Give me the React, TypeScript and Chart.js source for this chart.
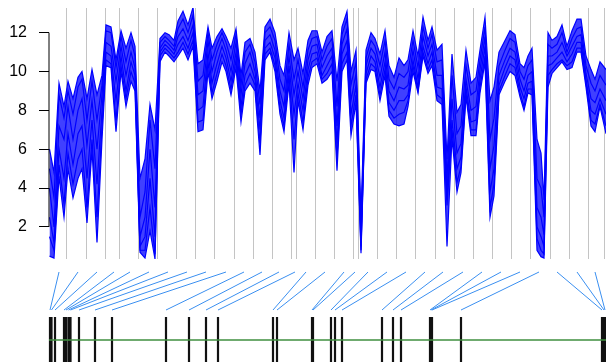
import React, { useEffect, useRef } from "react";
import { Chart, registerables } from "chart.js";
Chart.register(...registerables);

// ---- top panel data ----
const xPos = [
  49.5, 54, 59, 64, 68, 73, 78, 82, 87, 92,
  97, 102, 106, 111, 116, 121, 126, 131, 135, 140,
  145, 150, 155, 160, 165, 169, 174, 178, 183, 188,
  193, 198, 203, 208, 212, 217, 222, 226, 231, 236,
  241, 245, 250, 255, 260, 265, 270, 275, 280, 284,
  289, 294, 298, 303, 308, 312, 317, 322, 327, 332,
  337, 342, 347, 351, 356, 361, 366, 371, 375, 380,
  385, 389, 394, 399, 404, 408, 413, 418, 423, 428,
  432, 437, 442, 447, 452, 457, 461, 466, 471, 476,
  480, 485, 490, 494, 499, 505, 510, 515, 520, 524,
  528, 532, 537, 541, 544, 548, 552, 557, 562, 567,
  572, 577, 581, 586, 591, 595, 600, 606,
];

const seriesA = [
  6.0, 4.8, 9.4, 8.2, 9.5, 8.6, 9.7, 10.0, 8.6, 10.1,
  8.8, 9.8, 12.4, 12.3, 10.6, 12.1, 11.2, 12.0, 11.3, 4.5,
  5.5, 8.3, 7.0, 11.7, 12.0, 11.9, 11.6, 12.6, 13.1, 12.4,
  13.3, 10.4, 10.6, 12.3, 11.2, 11.8, 12.2, 11.8, 11.2, 12.2,
  9.8, 11.5, 11.7, 11.0, 9.0, 12.3, 12.7, 12.0, 10.3, 9.8,
  12.0, 10.6, 11.2, 9.9, 11.6, 12.1, 12.1, 11.0, 11.8, 12.1,
  9.5, 12.3, 13.1, 10.0, 11.1, 2.5, 11.1, 12.0, 11.7, 10.9,
  12.1, 10.3, 9.7, 10.7, 10.3, 10.6, 12.1, 10.8, 12.8, 11.6,
  12.3, 11.1, 11.4, 5.5, 10.9, 7.9, 8.3, 11.1, 9.4, 9.7,
  11.1, 12.8, 8.5, 9.2, 11.0, 11.6, 12.1, 11.9, 10.4, 10.2,
  10.8, 11.2, 6.5, 5.8, 3.4, 12.0, 11.6, 11.8, 12.4, 11.3,
  12.1, 12.7, 12.7, 10.8, 10.1, 9.6, 10.5, 10.1,
];
const seriesB = [
  5.0, 3.5, 8.8, 7.6, 9.0, 7.8, 9.2, 9.6, 7.5, 9.5,
  7.5, 9.3, 12.1, 12.0, 10.2, 11.8, 10.5, 11.6, 10.8, 2.5,
  3.8, 7.5, 5.0, 11.5, 11.8, 11.6, 11.3, 12.2, 12.7, 12.0,
  12.9, 9.5, 9.8, 12.0, 10.6, 11.4, 12.0, 11.5, 10.6, 11.9,
  9.3, 11.0, 11.4, 10.5, 8.3, 12.0, 12.3, 11.6, 9.6, 9.0,
  11.4, 9.6, 10.6, 9.2, 11.1, 11.7, 11.8, 10.6, 11.3, 11.7,
  8.2, 11.9, 12.7, 9.3, 10.5, 1.8, 10.7, 11.6, 11.3, 10.3,
  11.6, 9.6, 9.1, 9.9, 9.7, 10.0, 11.6, 10.2, 12.3, 11.2,
  11.9, 10.5, 10.6, 4.5, 9.8, 6.8, 7.2, 10.3, 8.8, 9.0,
  10.6, 12.3, 6.5, 7.6, 10.3, 11.1, 11.7, 11.5, 10.0, 9.6,
  10.3, 10.6, 4.5, 4.0, 2.5, 11.4, 11.2, 11.4, 12.0, 11.0,
  11.7, 12.2, 12.3, 10.3, 9.4, 9.0, 9.8, 9.3,
];
const seriesC = [
  4.0, 2.0, 7.2, 6.5, 8.2, 6.5, 8.0, 8.6, 6.2, 8.5,
  6.0, 8.8, 11.5, 11.3, 9.5, 11.3, 9.8, 11.0, 10.2, 1.5,
  2.5, 6.0, 3.0, 11.2, 11.6, 11.4, 11.1, 11.8, 12.2, 11.6,
  12.4, 8.8, 9.0, 11.6, 10.0, 11.0, 11.7, 11.1, 10.0, 11.5,
  8.8, 10.4, 11.0, 10.0, 7.6, 11.6, 11.9, 11.1, 9.0, 8.2,
  10.8, 8.8, 10.0, 8.6, 10.6, 11.3, 11.4, 10.2, 10.8, 11.2,
  7.2, 11.4, 12.2, 8.5, 9.9, 1.4, 10.3, 11.2, 10.9, 9.7,
  11.0, 9.0, 8.5, 9.2, 9.1, 9.3, 11.1, 9.6, 11.8, 10.8,
  11.4, 9.8, 9.8, 3.8, 8.6, 5.8, 6.3, 9.6, 8.0, 8.2,
  10.1, 11.8, 5.0, 6.2, 9.8, 10.6, 11.2, 11.0, 9.6, 9.0,
  9.8, 10.0, 3.0, 2.5, 1.6, 10.8, 10.8, 11.0, 11.5, 10.8,
  11.3, 11.8, 11.9, 9.9, 8.6, 8.4, 9.1, 8.5,
];
const seriesD = [
  2.5, 1.2, 6.0, 4.5, 6.8, 5.2, 6.8, 7.2, 4.5, 7.5,
  4.2, 8.0, 11.0, 10.8, 8.5, 10.8, 9.0, 10.5, 9.8, 1.0,
  1.5, 4.5, 1.5, 11.0, 11.4, 11.2, 10.9, 11.4, 11.8, 11.2,
  12.0, 8.0, 8.2, 11.0, 9.4, 10.4, 11.3, 10.7, 9.5, 11.0,
  8.2, 9.8, 10.4, 9.6, 7.0, 11.2, 11.5, 10.7, 8.5, 7.6,
  10.3, 7.8, 9.4, 8.0, 10.1, 10.9, 11.0, 9.8, 10.3, 10.8,
  6.3, 10.9, 11.6, 7.8, 9.3, 1.0, 9.9, 10.8, 10.5, 9.2,
  10.5, 8.4, 8.0, 8.5, 8.5, 8.8, 10.6, 9.2, 11.3, 10.4,
  11.0, 9.2, 9.1, 3.4, 7.5, 5.0, 5.6, 9.2, 7.4, 7.5,
  9.6, 11.3, 3.8, 5.0, 9.3, 10.2, 10.8, 10.6, 9.2, 8.6,
  9.4, 9.5, 2.0, 1.5, 1.0, 10.3, 10.4, 10.7, 11.0, 10.5,
  10.9, 11.5, 11.5, 9.6, 8.0, 7.8, 8.6, 7.8,
];
const seriesE = [
  1.5, 0.8, 5.2, 3.2, 5.8, 4.2, 5.5, 6.0, 3.0, 6.5,
  2.5, 7.2, 10.6, 10.4, 7.5, 10.3, 8.6, 10.0, 9.4, 0.8,
  0.8, 3.0, 0.6, 10.8, 11.2, 11.0, 10.7, 11.0, 11.5, 10.9,
  11.6, 7.4, 7.5, 10.5, 8.9, 9.9, 10.9, 10.3, 9.1, 10.6,
  7.8, 9.3, 9.9, 9.3, 6.3, 10.9, 11.2, 10.3, 8.1, 7.2,
  9.8, 6.5, 8.9, 7.4, 9.7, 10.5, 10.7, 9.6, 9.9, 10.4,
  5.5, 10.4, 11.0, 7.2, 8.8, 0.8, 9.6, 10.4, 10.2, 8.8,
  10.1, 8.0, 7.6, 7.8, 7.9, 8.5, 10.3, 9.0, 11.0, 10.1,
  10.6, 8.8, 8.6, 3.1, 7.0, 4.3, 5.1, 8.9, 7.0, 7.0,
  9.2, 10.8, 3.0, 4.2, 9.0, 9.8, 10.4, 10.2, 8.9, 8.2,
  9.1, 9.1, 1.4, 0.8, 0.6, 9.8, 10.1, 10.4, 10.6, 10.3,
  10.5, 11.2, 11.2, 9.4, 7.5, 7.3, 8.3, 7.2,
];
const seriesF = [
  0.5, 0.4, 4.6, 2.5, 5.0, 3.5, 4.5, 5.0, 2.2, 6.0,
  1.2, 6.5, 10.3, 10.2, 6.9, 10.0, 8.2, 9.5, 9.0, 0.7,
  0.4, 1.8, 0.35, 10.5, 11.0, 10.8, 10.5, 10.8, 11.2, 10.6,
  11.3, 6.9, 7.0, 10.0, 8.6, 9.5, 10.5, 10.0, 8.8, 10.2,
  7.4, 9.0, 9.4, 9.0, 5.7, 10.6, 11.0, 10.0, 7.8, 6.9,
  9.4, 4.8, 8.5, 7.0, 9.3, 10.2, 10.4, 9.4, 9.6, 10.0,
  4.9, 10.0, 10.6, 6.7, 8.4, 0.65, 9.4, 10.1, 10.0, 8.5,
  9.8, 7.7, 7.3, 7.2, 7.3, 8.2, 10.0, 8.9, 10.8, 9.9,
  10.3, 8.5, 8.3, 1.0, 6.6, 3.8, 4.8, 8.7, 6.7, 6.7,
  8.9, 10.5, 2.5, 3.6, 8.8, 9.5, 10.0, 9.8, 8.7, 8.0,
  8.9, 8.8, 0.8, 0.47, 0.4, 9.2, 9.9, 10.2, 10.5, 10.1,
  10.2, 11.0, 11.0, 9.2, 7.2, 6.9, 8.2, 6.8,
];
const allSeries = [seriesA, seriesB, seriesC, seriesD, seriesE, seriesF];

const yTicks = [2, 4, 6, 8, 10, 12];
const yRange = [0.35, 13.27];
const xRange = [49, 606];

const guideLines = [
  66.5, 86, 105, 119, 138, 157, 176, 195.5, 214.7, 234, 253, 272, 291.7, 296,
  315.5, 334.7, 353.7, 358, 377.5, 396.7, 415.7, 435, 454, 473, 492, 511,
  530.7, 550, 569, 588, 604.7,
];

// ---- bottom panel data ----
const mapTop = [
  59, 78, 97, 114, 130, 149, 168, 187, 206, 226, 244, 262, 279, 295, 306, 325,
  344, 355, 368, 387, 406, 425, 443, 463, 482, 501, 520, 539, 557, 577, 595,
];
const mapBottom = [
  50, 51.5, 55, 64, 66, 68.5, 70.5, 79, 95, 112, 166, 189, 206, 218, 273, 277,
  312, 313, 331, 335, 342, 382, 393, 401, 430, 431, 432, 461, 602, 604, 605,
];
const levels = { linkTop: 9, linkBottom: 5.2, barTop: 4.5, barBottom: 0, baseline: 2.2 };

const FONT = "'Liberation Sans', Arial, Helvetica, sans-serif";

const axisLinePlugin = {
  id: "axisLine",
  afterDraw(chart: any) {
    const ys = chart.scales.y;
    const x = chart.chartArea.left;
    const ctx = chart.ctx;
    ctx.save();
    ctx.strokeStyle = "#000";
    ctx.lineWidth = 1;
    ctx.beginPath();
    ctx.moveTo(x, ys.getPixelForValue(yTicks[0]));
    ctx.lineTo(x, ys.getPixelForValue(yTicks[yTicks.length - 1]));
    ctx.stroke();
    ctx.restore();
  },
};

export default function App() {
  const topRef = useRef<HTMLCanvasElement>(null);
  const botRef = useRef<HTMLCanvasElement>(null);

  useEffect(() => {
    const datasets: any[] = allSeries.map((s, i) => ({
      data: xPos.map((x, j) => ({ x, y: s[j] })),
      borderColor: "#0000ff",
      borderWidth: 1.2,
      pointRadius: 0,
      tension: 0,
      fill: i === 0 ? { target: allSeries.length - 1 } : false,
      backgroundColor: "rgba(0,0,255,0.75)",
    }));

    const top = new Chart(topRef.current!, {
      type: "line",
      data: { datasets },
      plugins: [axisLinePlugin],
      options: {
        animation: false,
        responsive: false,
        events: [],
        layout: { padding: { top: 8, left: 0, right: 0, bottom: 0 } },
        plugins: { legend: { display: false }, tooltip: { enabled: false } },
        scales: {
          x: {
            type: "linear",
            min: xRange[0],
            max: xRange[1],
            afterBuildTicks: (s: any) => {
              s.ticks = guideLines.map((v) => ({ value: v }));
            },
            afterFit: (s: any) => {
              s.height = 0;
            },
            ticks: { display: false },
            grid: { color: "#c4c4c4", lineWidth: 1, drawTicks: false },
            border: { display: false },
          },
          y: {
            type: "linear",
            min: yRange[0],
            max: yRange[1],
            afterBuildTicks: (s: any) => {
              s.ticks = yTicks.map((v) => ({ value: v }));
            },
            afterFit: (s: any) => {
              s.width = 49;
              s.paddingTop = 0;
              s.paddingBottom = 0;
            },
            ticks: {
              color: "#000",
              padding: 12,
              font: { family: FONT, size: 16 },
            },
            grid: {
              drawOnChartArea: false,
              drawTicks: true,
              tickLength: 10,
              color: "#000",
            },
            border: { display: false },
          },
        },
      },
    });

    const links: any[] = [];
    mapTop.forEach((t, i) => {
      links.push({ x: t, y: levels.linkTop });
      links.push({ x: mapBottom[i], y: levels.linkBottom });
      links.push({ x: mapBottom[i], y: null });
    });
    const bars: any[] = [];
    mapBottom.forEach((b) => {
      bars.push({ x: b, y: levels.barTop });
      bars.push({ x: b, y: levels.barBottom });
      bars.push({ x: b, y: null });
    });

    const bot = new Chart(botRef.current!, {
      type: "line",
      data: {
        datasets: [
          {
            data: [
              { x: xRange[0], y: levels.baseline },
              { x: xRange[1], y: levels.baseline },
            ],
            borderColor: "#3f8f3f",
            borderWidth: 1.5,
            pointRadius: 0,
          },
          {
            data: bars,
            borderColor: "#111111",
            borderWidth: 2.2,
            pointRadius: 0,
            spanGaps: false,
          },
          {
            data: links,
            borderColor: "#3a8ff0",
            borderWidth: 1,
            pointRadius: 0,
            spanGaps: false,
          },
        ],
      },
      options: {
        animation: false,
        responsive: false,
        events: [],
        layout: { padding: 0 },
        plugins: { legend: { display: false }, tooltip: { enabled: false } },
        scales: {
          x: { type: "linear", min: 0, max: xRange[1], display: false },
          y: { type: "linear", min: 0, max: 10, display: false },
        },
      },
    });

    return () => {
      top.destroy();
      bot.destroy();
    };
  }, []);

  return (
    <div
      style={{
        position: "fixed",
        left: 0,
        top: 0,
        width: 606,
        height: 362,
        background: "#fff",
        overflow: "hidden",
      }}
    >
      <canvas
        ref={topRef}
        width={606}
        height={259}
        style={{ position: "absolute", left: 0, top: 0, width: 606, height: 259 }}
      />
      <canvas
        ref={botRef}
        width={606}
        height={100}
        style={{ position: "absolute", left: 0, top: 262, width: 606, height: 100 }}
      />
    </div>
  );
}
